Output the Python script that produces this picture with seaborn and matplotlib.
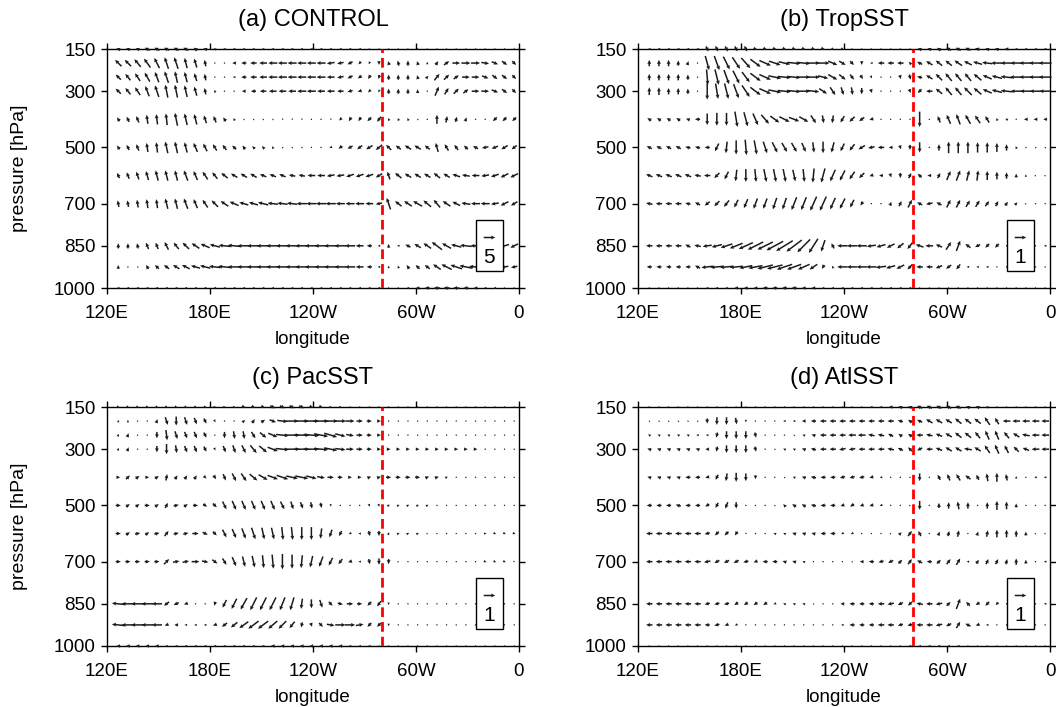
import numpy as np
import matplotlib
matplotlib.use("Agg")
import matplotlib.pyplot as plt
import matplotlib.patches as mpatches
import seaborn as sns

# pressure levels (hPa) and longitudes (deg E) of the wind grid
levels = [150, 200, 250, 300, 400, 500, 600, 700, 850, 925, 1000]
lons = np.arange(126.5625, 360, 5.625)

xtick_pos = [120, 180, 240, 300, 360]
xtick_labels = ["120E", "180E", "120W", "60W", "0"]
ytick_pos = [150, 300, 500, 700, 850, 1000]

titles = ["(a) CONTROL", "(b) TropSST", "(c) PacSST", "(d) AtlSST"]
ref_labels = ["5", "1", "1", "1"]
ref_units = 9      # size of the reference vector in the units below
divide_lon = 280   # 80W

# zonal wind (u) and scaled vertical motion (w, positive = up),
# in units where the panel's reference vector is ref_units long,
# rows = levels, cols = lons
u_control = [
    [-3,-3,-3,-4,-4,-4,-4,-4,-3,-3, -2,-2,-2,-2,-2,-2,-2,-2,-2,-2, -2,-2,-2,-2,-2,-2,-1,-1, -1,-1,-1,-1,-1,-1,-1,-1,-1,-1,-1,-1,-1,-1],
    [-5,-5,-5,-5,-4,-3,-3,-2,-2,-1, 0,0,-3,-4,-5,-6,-7,-7,-7,-7, -7,-7,-6,-5,-4,-2,-1,0, -1,-1,0,-1,0,2,4,6,7,7,6,5,4,3],
    [-4,-4,-4,-4,-3,-3,-2,-2,-2,-1, 0,0,-2,-4,-5,-6,-7,-7,-7,-7, -7,-7,-6,-5,-4,-3,-2,-1, 0,0,0,-1,2,4,4,4,6,6,5,4,4,3],
    [-4,-4,-4,-3,-3,-2,-2,-2,-2,-1, -1,0,-1,-3,-4,-5,-6,-6,-6,-7, -7,-6,-6,-5,-4,-3,-2,-1, 0,0,0,0,0,3,3,4,4,6,6,5,4,3],
    [-2,-2,-2,-1,-1,-1,-2,-2,-2,-2, -2,-2,-1,-1,-1,-1,-1,-1,-1,-1, -1,-1,-1,-2,-2,-2,-3,-3, -1,-1,-1,-1,0,0,1,1,1,0,-1,-3,-3,-3],
    [-2,-2,-2,-1,-1,-2,-2,-2,-3,-3, -3,-3,-3,-2,-2,-2,-1,-1,-1,-1, -1,-1,-2,-3,-4,-4,-5,-5, -4,-4,-5,-5,-4,-2,-3,-3,-3,-4,-5,-5,-5,-4],
    [-2,-2,-2,-2,-2,-2,-2,-3,-3,-4, -4,-5,-5,-5,-5,-5,-5,-5,-5,-5, -6,-6,-6,-6,-6,-6,-6,-5, -2,-5,-5,-5,-5,-5,-5,-6,-6,-6,-6,-6,-6,-6],
    [-1,-1,-1,-1,-1,-2,-2,-3,-3,-4, -5,-6,-7,-7,-7,-8,-8,-8,-8,-8, -8,-8,-8,-7,-7,-7,-6,-5, -3,-5,-6,-7,-6,-5,-6,-6,-7,-7,-7,-6,-6,-5],
    [0,0,-1,-2,-2,-3,-4,-5,-6,-7, -8,-9,-10,-10,-10,-10,-10,-10,-10,-10, -10,-10,-10,-9,-8,-6,-4,-2, 0,-2,-4,-5,-6,-8,-7,-8,-9,-8,-8,-7,-7,-6],
    [0,0,-1,-2,-3,-4,-5,-6,-7,-8, -9,-10,-10,-10,-10,-10,-10,-10,-10,-10, -10,-10,-10,-9,-8,-6,-4,-2, 0,-1,-2,-3,-4,-6,-8,-9,-10,-10,-9,-8,-6,-5],
    [-2,-2,-2,-2,-2,-2,-2,-2,-2,-2, -2,-2,-2,-2,-2,-2,-2,-2,-2,-2, -2,-2,-2,-2,-2,-2,-2,-2, -1,-1,-2,-3,-4,-5,-5,-5,-4,-3,-2,-2,-1,-1],
]
w_control = [
    [1,1,1,2,2,2,2,2,2,1, 1,0,0,0,0,0,0,0,0,0, 0,0,0,0,0,0,0,0, 0,0,0,0,0,0,0,0,0,0,0,0,0,0],
    [5,5,6,7,8,9,9,8,7,5, 1,1,0,0,0,0,0,0,0,0, 0,0,-1,-1,-2,-2,-2,-3, 3,4,4,3,2,3,3,0,0,0,-1,-2,-3,-3],
    [4,5,6,7,8,9,9,8,6,5, 1,1,0,0,0,0,0,0,0,0, 0,0,0,-1,-2,-2,-3,-3, 4,4,4,3,2,5,4,3,0,0,-2,-3,-3,-3],
    [4,5,6,8,9,10,10,9,7,5, 2,1,0,0,0,0,0,0,0,0, 0,0,0,0,-1,-1,-2,-2, 4,4,4,3,1,7,5,4,3,0,0,-2,-3,-3],
    [3,4,5,7,8,9,10,9,8,6, 5,3,2,1,1,1,1,-1,-1,-1, 0,0,-1,-2,-3,-3,-3,-4, 2,2,2,1,1,7,5,4,3,1,0,-3,-3,-3],
    [3,4,5,7,8,9,9,8,7,6, 5,4,3,3,2,2,2,1,1,1, 0,0,-1,-2,-2,-3,-3,-4, 4,3,3,3,3,7,5,4,3,2,-1,-2,-3,-3],
    [4,5,6,7,8,8,8,8,7,6, 5,4,3,3,3,2,2,2,1,1, 0,0,-1,-1,-2,-2,-2,-3, 6,4,3,3,3,4,3,2,1,0,-1,-2,-3,-3],
    [5,5,6,7,7,8,8,8,7,6, 5,4,3,2,2,2,1,1,1,0, 0,0,0,0,0,0,0,-1, 9,4,4,4,5,6,4,3,1,0,0,-1,-3,-3],
    [4,4,4,5,5,6,5,5,4,3, 2,1,1,0,0,0,0,0,0,0, 0,0,0,0,0,0,0,0, 3,0,2,3,4,6,4,2,1,0,0,0,-2,-3],
    [3,1,1,3,3,3,3,3,2,2, 1,1,0,0,0,0,0,0,0,0, 0,0,0,0,0,0,0,0, 2,2,3,3,3,4,4,3,2,1,0,0,-1,-1],
    [0,0,0,0,0,0,0,0,0,0, 0,0,0,0,0,0,0,0,0,0, 0,0,0,0,0,0,0,0, 0,0,0,0,0,0,0,0,0,0,0,0,0,0],
]

u_trop = [
    [-2,-2,-2,-2,-2,-2,2,2,2,2, 2,3,3,3,3,3,3,3,3,2, 2,1,1,0,0,0,0,0, -3,-3,-3,-4,-4,-4,-4,-3,-3,-3,-2,-2,-2,-2],
    [0,0,0,0,1,0,3,4,5,6, 7,8,9,9,9,10,10,10,10,7, 5,3,0,-2,-5,-5,-5,-2, -4,-5,-5,-5,-6,-6,-7,-8,-9,-9,-9,-10,-10,-10],
    [0,0,0,0,0,0,1,3,4,5, 6,8,9,10,10,10,10,10,8,7, 5,3,2,1,0,0,1,1, -4,-5,-5,-5,-5,-5,-6,-7,-8,-9,-10,-10,-10,-10],
    [0,0,0,0,0,0,0,2,3,4, 6,8,9,10,10,10,10,9,6,4, 2,1,0,1,0,0,0,1, -3,-5,-5,-5,-5,-6,-6,-7,-8,-9,-9,-9,-9,-9],
    [-3,-3,-3,-3,-3,-4,0,0,0,2, 3,4,6,7,8,8,7,4,1,-1, -3,-4,-4,-3,-1,0,0,0, 0,0,-2,-3,-3,-4,-4,-3,-1,-2,-1,-3,-3,-3],
    [-4,-4,-4,-4,-4,-4,-4,-3,-1,0, 1,2,3,4,4,4,3,1,0,-2, -3,-4,-5,-5,-5,-3,1,0, 0,0,0,0,0,0,0,0,0,0,-1,-1,-1,-1],
    [-5,-5,-5,-5,-5,-5,-5,-4,-3,-1, 0,1,2,2,2,2,1,-1,-3,-4, -4,-4,-4,-3,-3,1,0,2, -3,-3,2,3,3,2,1,0,0,0,0,0,1,1],
    [-5,-5,-5,-5,-4,-4,-4,-4,-4,-3, -3,-3,-3,-3,-3,-4,-4,-5,-5,-4, -4,-3,-2,-1,0,1,2,3, -4,-5,-4,3,3,3,3,3,2,2,2,1,1,1],
    [-5,-5,-5,-5,-4,-5,-7,-8,-9,-10, -11,-12,-12,-13,-13,-12,-10,-7,-3,-2, -8,-8,-8,-7,-7,-6,-5,-4, -6,-6,-5,4,3,-4,-4,-3,-3,-1,-1,-1,-1,-2],
    [-4,-4,-4,-4,-4,-4,-9,-10,-10,-10, -10,-11,-12,-12,-12,-11,-9,-6,-2,-1, -8,-8,-8,-8,-8,-7,-6,-4, -5,-5,-5,-4,-3,-2,-2,-2,-1,-1,-1,0,0,0],
    [-1,-1,-1,-1,-1,-1,-2,-2,-2,-3, -3,-3,-4,-4,-4,-4,-3,-3,-2,-2, -2,-2,-2,-2,-2,-2,-2,-2, -1,-1,-1,-1,-1,-1,-1,-1,-1,-1,-1,-1,-1,-1],
]
w_trop = [
    [0,0,0,0,0,0,-4,-4,-4,-4, -4,-1,-1,-1,-1,-1,-1,-1,-1,-1, -1,0,0,0,0,0,0,0, 1,1,2,2,2,2,1,1,1,0,0,0,0,0],
    [5,5,5,4,3,0,-11,-11,-10,-9, -8,-6,-4,-3,-2,-1,-1,0,0,-3, -3,-3,-3,0,0,0,0,2, 2,3,4,4,4,3,2,1,0,0,0,0,0,0],
    [5,5,5,5,4,1,-12,-12,-11,-10, -8,-6,-4,-2,-1,-1,0,0,-2,-4, -4,-4,-3,-2,-1,-1,-3,-4, 1,3,5,6,6,6,5,3,2,1,0,0,0,0],
    [6,6,5,5,4,1,-13,-12,-12,-11, -9,-6,-4,-2,-1,-1,0,-1,-4,-6, -6,-6,-5,-3,-1,-1,-1,-3, -3,0,4,6,6,6,5,3,2,1,0,0,0,0],
    [2,2,2,2,1,0,-9,-10,-10,-12, -11,-9,-7,-5,-4,-3,-4,-6,-6,-6, -5,-4,-3,-1,0,0,-1,-1, -12,1,5,7,8,7,6,5,2,1,0,0,0,0],
    [2,2,2,2,1,1,0,-6,-9,-11, -12,-11,-9,-8,-7,-7,-7,-8,-9,-8, -6,-5,-3,-1,0,0,-3,-4, -8,1,5,9,9,9,8,8,7,5,2,1,1,1],
    [2,2,2,2,2,1,0,-4,-6,-9, -10,-10,-10,-10,-10,-9,-10,-11,-11,-9, -8,-6,-4,-1,0,-3,-4,4, 3,0,4,7,8,8,8,7,6,5,3,2,1,1],
    [1,0,0,0,1,2,-3,-4,-5,-6, -7,-8,-8,-9,-9,-10,-10,-11,-11,-9, -8,-6,-3,0,0,3,4,6, 2,-1,2,6,6,5,5,4,4,3,2,1,0,0],
    [0,0,0,0,2,1,-1,-2,-3,-4, -5,-6,-6,-7,-8,-9,-10,-11,-9,4, 0,0,0,-1,-2,-3,-4,-5, 2,0,2,6,8,3,-2,-3,-3,0,0,0,0,0],
    [0,0,0,0,0,2,-1,-1,-1,-1, -2,-2,-3,-3,-4,-4,-4,-4,-3,2, 0,0,0,0,-1,-2,-3,-4, 0,0,-2,-3,-4,0,0,0,0,0,0,0,0,0],
    [0,0,0,0,0,0,0,0,0,0, 0,0,0,0,0,0,0,0,0,0, 0,0,0,0,0,0,0,0, 0,0,0,0,0,0,0,0,0,0,0,0,0,0],
]

u_pac = [
    [2,2,2,2,2,2,2,2,2,2, 2,2,2,3,3,3,4,4,4,4, 3,3,2,2,1,1,1,1, 1,1,1,1,1,1,1,1,1,1,1,1,1,1],
    [0,0,0,0,1,2,0,2,2,2, 1,0,0,2,2,3,5,8,10,11, 12,12,11,9,7,5,4,3, 1,1,1,1,1,1,1,1,1,1,1,1,1,1],
    [1,1,0,0,0,1,2,2,2,2, 0,0,1,1,3,5,7,10,12,12, 12,11,10,8,6,5,4,3, 1,1,1,1,1,1,1,1,1,1,1,1,1,1],
    [1,1,0,0,0,0,1,2,2,2, 1,2,2,3,5,6,8,10,12,12, 12,11,10,8,6,5,4,3, 3,3,3,3,3,3,3,3,3,3,1,1,1,1],
    [3,3,3,3,3,1,2,2,2,2, 2,2,3,4,6,7,8,9,9,10, 8,6,5,4,3,3,3,3, 4,4,4,4,3,3,2,1,1,1,1,1,1,1],
    [4,3,3,4,3,2,4,3,4,3, 3,3,3,3,3,3,3,3,2,2, 1,1,0,0,1,1,1,1, 2,2,2,2,2,1,1,1,1,1,1,1,1,1],
    [4,3,4,3,4,3,4,4,5,4, 3,3,3,3,3,2,2,1,1,0, 0,-1,-2,-2,-2,-2,1,0, 1,2,2,2,1,1,1,1,1,1,2,2,2,2],
    [4,4,4,4,4,4,5,5,6,5, 4,3,3,2,2,1,1,0,0,-1, -2,-3,-3,-3,-3,-2,1,0, 0,1,1,1,1,1,1,1,1,1,2,2,2,1],
    [-10,-10,-10,-9,-8,-4,-4,-3,-1,0, -1,-3,-4,-5,-5,-5,-5,-4,-3,-1, 0,2,3,4,5,4,-3,-3, 0,1,1,1,1,1,1,1,1,1,1,1,1,1],
    [-10,-10,-10,-9,-8,-3,-3,-2,-2,-2, -3,-4,-5,-7,-8,-8,-7,-6,-4,-1, 1,3,6,8,8,6,-3,-3, 0,1,1,1,1,1,1,1,1,1,1,1,1,1],
    [-3,-3,-3,-3,-3,-2,-2,-2,-2,-2, -2,-2,-2,-2,-2,-2,-3,-3,-3,-3, -3,-3,-3,-3,-2,-2,-2,-1, 0,0,0,0,0,0,0,0,0,0,0,0,0,0],
]
w_pac = [
    [-1,-1,-1,-1,-1,-1,-1,-1,-1,-1, 0,0,0,-1,-1,-1,-2,-2,-2,-2, -1,-1,0,0,0,0,0,0, 0,0,0,0,0,0,0,0,0,0,0,0,0,0],
    [2,2,1,1,3,-6,-7,-6,-5,-4, -2,-1,-1,2,3,2,-2,-1,0,0, 0,0,0,0,0,0,0,0, 0,0,0,0,0,0,0,0,0,0,0,0,0,0],
    [2,3,1,1,-5,-8,-6,-5,-5,-4, -1,-5,-6,-6,-5,-4,-3,-1,0,0, -1,-2,-3,-2,-1,0,0,0, 0,0,0,0,0,0,0,0,0,0,0,0,0,0],
    [2,3,1,1,-5,-8,-6,-5,-5,-4, -2,-5,-6,-6,-6,-5,-3,-1,0,0, 0,-1,-2,-1,0,0,0,0, 0,0,0,0,0,0,0,0,0,0,0,0,0,0],
    [0,3,2,0,2,5,3,3,3,-2, -3,-5,-6,-6,-5,-4,-3,-3,-2,-2, -2,-1,0,0,0,0,1,1, 0,0,0,0,1,1,1,0,0,0,0,0,0,0],
    [0,2,2,0,2,4,1,2,0,-2, -3,-6,-7,-7,-7,-7,-7,-6,-6,-5, -5,-4,-2,-1,0,0,-2,-2, 1,1,1,1,1,0,0,0,0,0,0,0,0,0],
    [0,2,1,2,1,4,1,1,0,-2, -3,-6,-7,-8,-9,-9,-9,-10,-10,-10, -10,-8,-6,-4,-1,0,-4,-4, 2,1,1,1,1,0,0,0,0,0,0,-1,-1,-1],
    [0,0,0,0,0,4,1,1,0,-1, -3,-5,-7,-8,-9,-10,-11,-12,-11,-10, -9,-8,-6,-4,-1,0,-4,-5, -4,1,0,0,0,0,0,0,0,0,-1,-1,-1,-1],
    [1,0,0,0,0,-3,-2,-1,0,-1, -3,-6,-8,-9,-10,-10,-10,-10,-10,-8, -7,-6,-3,-1,0,0,-3,-4, -2,0,0,0,0,0,0,0,0,0,0,0,0,0],
    [1,0,0,0,0,-1,0,0,0,0, -1,-3,-4,-5,-6,-6,-6,-6,-5,-4, -3,-3,-1,0,0,1,-3,-3, -2,0,0,0,0,0,0,0,0,0,0,0,0,0],
    [0,0,0,0,0,0,0,0,0,0, 0,0,0,0,0,0,0,0,0,0, 0,0,0,0,0,0,0,0, 0,0,0,0,0,0,0,0,0,0,0,0,0,0],
]

u_atl = [
    [-1,-1,-1,-1,-1,-1,-1,-1,-1,-1, -1,-1,-1,-1,-1,-1,-1,-1,-1,-1, -1,-1,-1,-2,-2,-3,-3,-3, -4,-4,-4,-4,-4,-3,-3,-2,-1,-1,-1,-1,-1,-1],
    [-1,-1,-1,-1,-1,-1,0,0,0,1, 0,-1,-1,-1,-2,-2,-3,-4,-5,-5, -5,-5,-5,-5,-5,-5,-4,-3, -4,-5,-5,-5,-5,-5,-5,-4,-3,-6,-6,-6,-6,-6],
    [-2,-2,-2,-2,-2,-2,-2,-1,0,0, 0,1,0,0,0,-1,-2,-3,-5,-5, -5,-6,-6,-5,-5,-4,-3,-3, -5,-5,-5,-5,-5,-5,-4,-3,-3,-4,-5,-6,-6,-6],
    [-3,-3,-3,-3,-3,-3,-3,-1,0,0, 0,1,0,-1,-2,-2,-3,-4,-5,-5, -5,-5,-5,-5,-5,-5,-4,-3, -4,-5,-5,-5,-5,-6,-5,-4,-3,-3,-4,-5,-6,-6],
    [-3,-3,-3,-3,-4,-4,-3,-2,-1,0, 0,0,0,0,-1,-2,-3,-4,-4,-4, -4,-4,-4,-3,-2,-1,0,0, 0,0,-2,-2,-3,-4,-2,-1,0,-1,0,-1,-2,-2],
    [-4,-4,-4,-4,-4,-4,-3,-2,-2,0, 0,0,0,-1,-2,-3,-3,-4,-4,-4, -3,-3,-3,-3,-2,-1,0,1, 0,0,0,0,-1,0,0,0,0,0,0,0,0,0],
    [-5,-5,-5,-5,-5,-5,-4,-3,-3,-2, -1,-1,-1,-2,-2,-3,-3,-3,-4,-4, -2,-2,-1,0,0,1,2,3, -2,-1,1,1,1,0,1,1,0,0,0,0,1,1],
    [-5,-5,-5,-5,-5,-5,-5,-4,-4,-4, -4,-3,-4,-4,-3,-3,-2,-1,-1,-1, -1,-1,-3,-4,-4,-4,3,3, -4,-4,3,3,3,-2,2,2,2,1,0,0,-1,-2],
    [-5,-5,-5,-5,-5,-5,-4,-4,-4,-3, -3,-3,-3,-2,-2,-2,-2,-1,-1,-1, -3,-4,-4,-4,-5,-5,-4,-3, -5,-5,-5,3,3,-3,-3,-3,-2,-1,-1,-1,-1,-2],
    [-5,-5,-5,-5,-5,-5,-4,-4,-3,-2, -1,-1,-1,-1,-1,-1,-1,-1,-1,-1, -2,-4,-4,-4,-5,-5,-4,-4, -5,-5,-5,-4,3,-4,-3,-2,-1,-1,-1,-1,-1,-1],
    [-1,-1,-1,-1,-1,-1,-1,-1,-1,-1, -1,-1,-1,-1,-1,-1,-1,-1,-1,-1, -1,-1,-1,-1,-1,-1,-1,-2, -2,-2,-2,-2,-2,-1,-1,-1,-1,-1,-1,-1,-1,-1],
]
w_atl = [
    [0,0,0,0,0,0,0,0,0,0, 0,0,0,0,0,0,0,0,0,0, 0,0,0,0,0,0,1,1, 2,2,2,2,2,1,1,1,0,0,0,0,0,0],
    [1,1,1,1,1,1,-4,-6,-6,-5, -2,0,0,0,0,0,0,0,0,0, 0,0,0,0,0,0,1,2, 2,3,3,3,4,4,4,6,5,0,0,0,0,0],
    [1,1,1,1,1,0,0,-4,-6,-6, -6,-4,-1,-1,-1,1,1,1,0,0, 0,0,0,1,1,2,2,2, 0,1,2,3,4,4,5,7,7,5,3,1,0,0],
    [1,1,1,1,1,1,0,-4,-6,-6, -6,-4,-1,1,1,1,1,1,0,0, -1,-1,0,0,0,1,2,3, -2,0,2,3,3,1,3,6,7,6,4,2,0,0],
    [1,1,1,1,0,0,-1,-4,-6,-7, -6,-3,-1,-1,1,1,1,1,0,0, -1,-1,-1,-1,0,0,0,0, -6,1,4,5,5,3,4,6,7,5,2,0,0,0],
    [0,0,0,1,0,0,-2,-4,-5,-5, -1,-1,-1,1,2,2,2,1,0,0, -1,-2,-1,-1,-1,0,0,1, -7,1,4,5,6,5,1,5,7,6,3,1,1,1],
    [0,0,0,0,0,0,-1,-3,-3,-3, -1,0,0,1,1,1,1,1,0,0, -1,-1,0,0,0,1,2,4, 4,0,3,4,5,1,3,5,6,6,5,3,1,1],
    [0,0,0,0,0,0,-1,-2,-2,-2, -1,-1,0,0,1,1,1,0,0,0, 0,1,0,0,-1,-2,3,4, 2,0,3,4,5,0,3,4,4,4,5,3,0,0],
    [0,0,0,0,0,0,-1,-1,-1,-2, -2,-2,-2,-1,1,1,1,1,0,0, 0,0,0,0,0,-1,-2,-3, 1,0,-1,3,8,3,-2,-3,-2,0,0,0,0,0],
    [0,0,0,0,0,0,0,-1,-1,-1, 0,0,0,0,0,0,0,0,0,0, 0,0,0,0,0,0,-1,-1, 0,0,-1,-2,5,2,-1,0,0,0,0,0,0,0],
    [0,0,0,0,0,0,0,0,0,0, 0,0,0,0,0,0,0,0,0,0, 0,0,0,0,0,0,0,0, 0,0,0,0,0,0,0,0,0,0,0,0,0,0],
]

panels = [(u_control, w_control), (u_trop, w_trop), (u_pac, w_pac), (u_atl, w_atl)]

sns.set_style("ticks")
plt.rcParams["font.family"] = ["Liberation Sans", "DejaVu Sans"]
plt.rcParams["text.color"] = "black"
plt.rcParams["axes.labelcolor"] = "black"

W, H = 1056, 707
fig = plt.figure(figsize=(W / 100, H / 100), dpi=100)

# axes boxes in pixels: left, top
corners = [(107, 49), (638, 49), (107, 407), (638, 407)]
aw, ah = 412, 239


def px_axes(left, top):
    return fig.add_axes([left / W, 1 - (top + ah) / H, aw / W, ah / H])


for i, ((u, w), (left, top)) in enumerate(zip(panels, corners)):
    ax = px_axes(left, top)
    U = np.array(u, dtype=float)
    V = np.array(w, dtype=float)
    assert U.shape == (len(levels), len(lons)) and V.shape == U.shape, i
    X, Y = np.meshgrid(lons, levels)
    q = ax.quiver(X, Y, U, V, angles="uv", pivot="middle", units="dots",
                  scale_units="dots", scale=0.78, width=1.5, headwidth=2.6,
                  headlength=2.8, headaxislength=2.5, color="#1a1a1a",
                  clip_on=False, zorder=3)
    ax.axvline(divide_lon, color="red", lw=2, ls=(0, (3.5, 1.8)), zorder=4)

    ax.set_xlim(120, 360)
    ax.set_ylim(1000, 150)
    ax.set_xticks(xtick_pos)
    ax.set_xticklabels(xtick_labels)
    ax.set_yticks(ytick_pos)
    ax.set_yticklabels([str(t) for t in ytick_pos])
    ax.tick_params(direction="out", length=4, width=1, top=True, right=True,
                   labelsize=13.5, colors="black")
    ax.tick_params(axis="x", pad=8)
    ax.tick_params(axis="y", pad=4)
    for s in ax.spines.values():
        s.set_linewidth(1)
        s.set_color("black")

    # reference vector box
    ax.add_patch(mpatches.Rectangle((0.895, 0.071), 0.066, 0.215,
                                    transform=ax.transAxes, fc="white",
                                    ec="black", lw=1, zorder=5, clip_on=False))
    key = ax.quiverkey(q, 0.928, 0.215, ref_units, "", labelpos="S",
                       coordinates="axes")
    key.set_zorder(6)
    ax.text(0.928, 0.126, ref_labels[i], transform=ax.transAxes,
            ha="center", va="center", fontsize=15, zorder=7)

    cx = (left + aw / 2) / W
    fig.text(cx, 1 - (top - 29) / H, titles[i], ha="center", va="center",
             fontsize=17)
    fig.text(cx, 1 - (top + ah + 52) / H, "longitude", ha="center",
             va="center", fontsize=13.5)
    if left < 300:
        fig.text(20 / W, 1 - (top + ah / 2) / H, "pressure [hPa]",
                 ha="center", va="center", rotation=90, fontsize=14)

fig.savefig("out.png", dpi=100)
